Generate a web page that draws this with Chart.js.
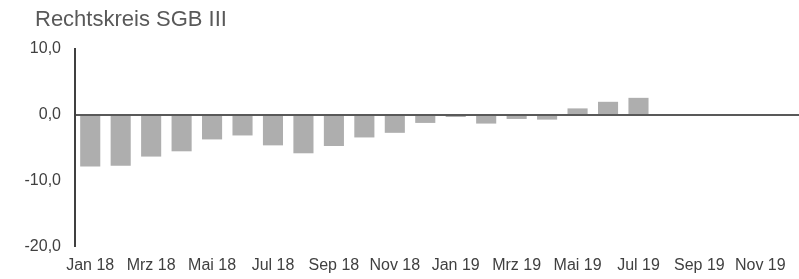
<!DOCTYPE html>
<html>
<head>
<meta charset="utf-8">
<script src="https://cdn.jsdelivr.net/npm/chart.js@4/dist/chart.umd.min.js"></script>
<style>
html,body{margin:0;padding:0;background:#fff;overflow:hidden;width:799px;height:279px;}
#wrap{position:relative;width:806px;height:279px;}
</style>
</head>
<body>
<div id="wrap"><canvas id="c"></canvas></div>
<script>
const titleText = 'Rechtskreis SGB III';
const months = ['Jan 18','Feb 18','Mrz 18','Apr 18','Mai 18','Jun 18','Jul 18','Aug 18','Sep 18','Okt 18','Nov 18','Dez 18',
                'Jan 19','Feb 19','Mrz 19','Apr 19','Mai 19','Jun 19','Jul 19','Aug 19','Sep 19','Okt 19','Nov 19','Dez 19'];
const values = [-7.8,-7.7,-6.3,-5.5,-3.7,-3.1,-4.6,-5.8,-4.7,-3.4,-2.7,-1.2,
                -0.3,-1.3,-0.6,-0.7,1.0,2.0,2.6,null,null,null,null,null];
const yTicks = [10,0,-10,-20];

const titlePlugin = {
  id:'leftTitle',
  afterDraw(chart){
    const ctx = chart.ctx;
    ctx.save();
    ctx.font = '22px "Liberation Sans", Arial, sans-serif';
    ctx.fillStyle = '#595959';
    ctx.textBaseline = 'alphabetic';
    ctx.textAlign = 'left';
    ctx.fillText(titleText, 35, 26);
    ctx.restore();
  }
};

new Chart(document.getElementById('c'), {
  type:'bar',
  data:{
    labels: months,
    datasets:[{
      data: values,
      backgroundColor:'#AEAEAE',
      borderWidth:0,
      categoryPercentage:1.0,
      barPercentage:0.66
    }]
  },
  options:{
    responsive:true,
    maintainAspectRatio:false,
    animation:false,
    layout:{padding:{top:49,left:0,right:0,bottom:0}},
    plugins:{legend:{display:false},tooltip:{enabled:false},title:{display:false}},
    scales:{
      x:{
        grid:{display:false},
        border:{display:false},
        ticks:{
          autoSkip:false,maxRotation:0,minRotation:0,
          color:'#404040',
          font:{family:'"Liberation Sans", Arial, sans-serif',size:16},
          padding:1,
          callback:function(v,i){return i%2===0 ? months[i] : '';}
        },
        afterFit:function(s){s.height=32;}
      },
      y:{
        min:-20,max:10,
        afterBuildTicks:function(s){s.ticks = yTicks.map(v=>({value:v}));},
        grid:{
          drawTicks:false,
          color:function(c){return c.tick && c.tick.value===0 ? '#595959' : 'rgba(0,0,0,0)';},
          lineWidth:function(c){return c.tick && c.tick.value===0 ? 2 : 0;}
        },
        border:{display:true,color:'#404040',width:2},
        ticks:{
          color:'#404040',
          font:{family:'"Liberation Sans", Arial, sans-serif',size:16},
          padding:14,
          callback:function(v){return Number(v).toFixed(1).replace('.',',');}
        },
        afterFit:function(s){s.width=75;}
      }
    }
  },
  plugins:[titlePlugin]
});
</script>
</body>
</html>
